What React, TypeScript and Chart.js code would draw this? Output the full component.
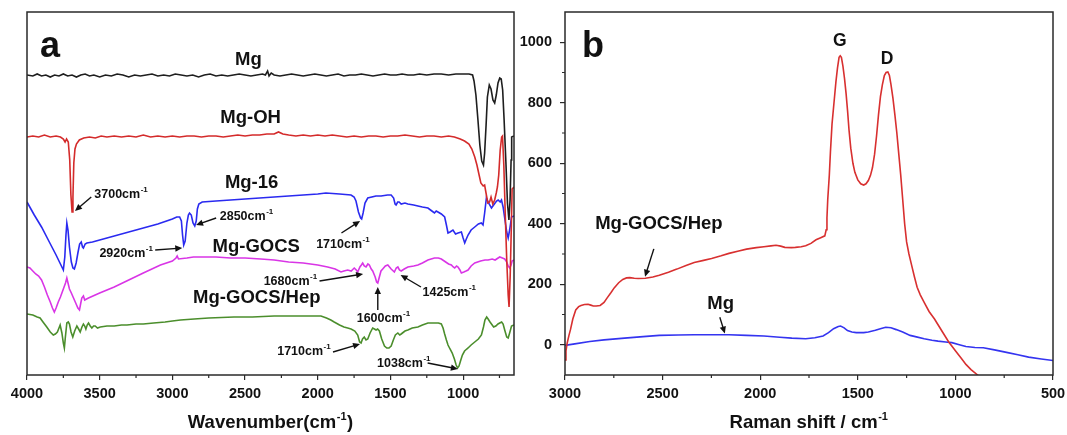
import React, { useEffect, useRef } from 'react';
import { Chart, registerables } from 'chart.js';

Chart.register(...registerables);

const FONT = '"Liberation Sans", Arial, Helvetica, sans-serif';
type Pt = [number, number];

// ---------------- Panel a : FTIR (wavenumber, transmittance a.u. with offsets) ----------------
const FTIR_X_TICKS = [4000, 3500, 3000, 2500, 2000, 1500, 1000];
const FTIR_X_MINOR = [3750, 3250, 2750, 2250, 1750, 1250, 750];

const FTIR_MG: Pt[] = [
  [4000, 300], [3960, 299], [3930, 301], [3900, 299], [3870, 300], [3840, 298], [3810, 300], [3780, 299], [3750, 301],
  [3720, 299], [3690, 300], [3660, 298], [3630, 300], [3600, 301], [3570, 299], [3540, 300], [3500, 298], [3460, 300],
  [3420, 299], [3380, 301], [3340, 300], [3300, 298], [3260, 300], [3220, 299], [3180, 300], [3140, 301], [3100, 299],
  [3060, 300], [3020, 299], [2980, 301], [2940, 300], [2900, 299], [2860, 300], [2820, 298], [2780, 300], [2740, 301],
  [2700, 299], [2660, 300], [2620, 299], [2580, 300], [2540, 301], [2500, 300], [2460, 299], [2420, 300], [2380, 301],
  [2360, 300], [2345, 304], [2335, 299], [2320, 302], [2300, 300], [2260, 299], [2220, 300], [2180, 301], [2140, 300],
  [2100, 299], [2060, 300], [2020, 301], [1980, 300], [1940, 299], [1900, 300], [1860, 301], [1820, 299], [1780, 300],
  [1740, 300], [1700, 301], [1660, 300], [1620, 299], [1580, 300], [1540, 301], [1500, 300], [1460, 300], [1420, 301],
  [1380, 300], [1340, 300], [1300, 301], [1250, 300], [1200, 301], [1150, 301], [1100, 300], [1050, 301], [1000, 301],
  [960, 301], [935, 300], [925, 294], [912, 280], [898, 255], [885, 230], [872, 214], [860, 210], [852, 222], [842, 250],
  [833, 278], [820, 290], [808, 286], [795, 275], [783, 272], [772, 280], [760, 292], [748, 297], [738, 296], [728, 285],
  [718, 255], [705, 210], [695, 172], [685, 155], [677, 175], [670, 215], [666, 238], [650, 239],
];

const FTIR_MG_OH: Pt[] = [
  [4000, 238], [3960, 239], [3920, 238], [3880, 240], [3840, 238], [3800, 239], [3770, 238], [3750, 236], [3738, 233],
  [3728, 236], [3716, 233], [3706, 215], [3698, 180], [3690, 163], [3684, 178], [3678, 212], [3670, 226], [3660, 231],
  [3640, 235], [3610, 237], [3570, 238], [3530, 237], [3490, 239], [3450, 238], [3400, 239], [3350, 238], [3300, 239],
  [3250, 238], [3200, 240], [3150, 238], [3100, 239], [3050, 238], [3000, 239], [2950, 238], [2900, 239], [2850, 239],
  [2800, 238], [2750, 239], [2700, 239], [2650, 238], [2600, 239], [2550, 240], [2500, 239], [2450, 240], [2400, 240],
  [2350, 241], [2300, 241], [2270, 243], [2240, 241], [2200, 240], [2150, 239], [2100, 240], [2050, 239], [2000, 240],
  [1950, 239], [1900, 240], [1850, 239], [1800, 238], [1750, 239], [1700, 238], [1650, 239], [1600, 239], [1550, 238],
  [1500, 239], [1450, 239], [1400, 240], [1350, 239], [1300, 238], [1250, 239], [1200, 239], [1150, 238], [1100, 239],
  [1060, 238], [1020, 236], [990, 234], [960, 231], [940, 226], [920, 218], [905, 210], [890, 200], [878, 192],
  [862, 189], [852, 190], [840, 180], [830, 172], [818, 173], [808, 178], [796, 171], [783, 175], [772, 182], [764, 188],
  [755, 200], [745, 225], [735, 238], [729, 239], [720, 210], [710, 160], [700, 115], [690, 80], [684, 68], [676, 100],
  [668, 150], [663, 186], [650, 188],
];

const FTIR_MG_16: Pt[] = [
  [4000, 173], [3950, 160], [3900, 148], [3850, 134], [3800, 120], [3770, 111], [3750, 105], [3740, 118], [3732, 140],
  [3726, 152], [3718, 145], [3708, 128], [3695, 113], [3684, 107], [3674, 106], [3662, 112], [3650, 122], [3638, 131],
  [3627, 133], [3618, 128], [3612, 127], [3600, 131], [3588, 132], [3550, 133], [3500, 135], [3400, 139], [3300, 143],
  [3200, 147], [3100, 151], [3000, 156], [2970, 158], [2950, 158], [2938, 154], [2930, 140], [2922, 130], [2912, 134],
  [2900, 152], [2890, 160], [2882, 162], [2870, 160], [2858, 152], [2846, 149], [2836, 154], [2828, 166], [2818, 171],
  [2795, 173], [2700, 174], [2600, 175], [2500, 176], [2400, 177], [2300, 178], [2200, 179], [2100, 180], [2000, 181],
  [1944, 182], [1850, 181], [1771, 180], [1750, 178], [1737, 174], [1720, 163], [1705, 157], [1698, 156], [1688, 162],
  [1675, 172], [1656, 177], [1600, 179], [1564, 179], [1520, 180], [1495, 180], [1478, 177], [1468, 171], [1461, 170],
  [1450, 173], [1440, 173], [1426, 171], [1400, 172], [1380, 171], [1340, 170], [1311, 169], [1280, 168], [1242, 167],
  [1215, 164], [1197, 162], [1185, 164], [1173, 163], [1150, 161], [1127, 158], [1115, 150], [1104, 142], [1090, 143],
  [1070, 145], [1052, 141], [1035, 142], [1012, 143], [1000, 137], [989, 132], [978, 136], [966, 140], [945, 145],
  [920, 148], [895, 151], [875, 152], [863, 150], [852, 162], [840, 177], [825, 172], [805, 167], [790, 170], [770, 174],
  [759, 175], [745, 173], [736, 175], [725, 168], [712, 155], [700, 143], [690, 137], [680, 145], [667, 158], [650, 159],
];

const FTIR_MG_GOCS: Pt[] = [
  [4000, 108], [3980, 107], [3960, 104], [3940, 101], [3920, 99], [3900, 95], [3880, 88], [3860, 80], [3840, 73],
  [3825, 67], [3812, 63], [3800, 67], [3785, 73], [3770, 78], [3755, 84], [3745, 88], [3735, 92], [3726, 97], [3718, 92],
  [3708, 86], [3695, 82], [3680, 77], [3665, 72], [3650, 67], [3639, 65], [3630, 72], [3623, 77], [3612, 79], [3603, 75],
  [3590, 76], [3577, 77], [3500, 82], [3400, 88], [3300, 95], [3200, 102], [3082, 110], [3000, 114], [2975, 117],
  [2967, 119], [2958, 116], [2900, 117], [2855, 118], [2700, 118], [2600, 117], [2500, 117], [2392, 116], [2300, 115],
  [2200, 113], [2100, 112], [2000, 110], [1932, 108], [1880, 106], [1840, 103], [1820, 104], [1794, 105], [1770, 104],
  [1749, 107], [1735, 105], [1725, 103], [1710, 108], [1700, 110], [1691, 112], [1680, 109], [1668, 108], [1655, 111],
  [1645, 110], [1632, 106], [1622, 104], [1605, 98], [1595, 93], [1587, 92], [1578, 97], [1565, 104], [1553, 106],
  [1535, 109], [1518, 110], [1495, 106], [1473, 103], [1460, 107], [1449, 108], [1438, 105], [1426, 104], [1405, 106],
  [1380, 108], [1340, 109], [1311, 110], [1280, 112], [1242, 115], [1220, 116], [1197, 117], [1170, 117], [1150, 116],
  [1120, 113], [1100, 111], [1081, 110], [1068, 108], [1058, 107], [1045, 109], [1035, 108], [1022, 105], [1012, 102],
  [995, 103], [980, 104], [966, 105], [945, 109], [920, 112], [880, 114], [850, 115], [828, 115], [800, 116], [780, 115],
  [759, 117], [748, 118], [730, 117], [714, 116], [700, 113], [690, 109], [679, 107], [670, 110], [663, 114], [650, 115],
];

const FTIR_MG_GOCS_HEP: Pt[] = [
  [4000, 61], [3960, 60], [3930, 58], [3910, 57], [3890, 53], [3864, 48], [3840, 43], [3819, 40], [3805, 41], [3791, 43],
  [3780, 47], [3772, 50], [3760, 42], [3750, 32], [3743, 27], [3736, 38], [3726, 52], [3716, 53], [3708, 51], [3697, 43],
  [3685, 38], [3672, 44], [3657, 49], [3645, 46], [3634, 43], [3622, 48], [3612, 51], [3603, 49], [3595, 46], [3586, 50],
  [3577, 52], [3565, 49], [3554, 47], [3542, 49], [3531, 49], [3515, 47], [3496, 48], [3450, 49], [3400, 49], [3350, 50],
  [3312, 50], [3250, 51], [3200, 51], [3129, 52], [3050, 53], [3000, 54], [2944, 55], [2850, 56], [2750, 57], [2576, 58],
  [2450, 58], [2300, 59], [2150, 59], [2050, 59], [1978, 59], [1940, 57], [1910, 55], [1887, 53], [1850, 50], [1820, 48],
  [1794, 47], [1771, 46], [1745, 44], [1725, 40], [1712, 33], [1702, 32], [1692, 36], [1680, 38], [1668, 35], [1656, 36],
  [1640, 42], [1622, 47], [1610, 46], [1599, 45], [1588, 46], [1576, 44], [1560, 36], [1541, 29], [1525, 27], [1510, 27],
  [1495, 29], [1480, 35], [1466, 40], [1449, 42], [1436, 40], [1426, 41], [1400, 44], [1380, 45], [1350, 47], [1311, 48],
  [1280, 50], [1242, 52], [1200, 52], [1170, 52], [1150, 51], [1138, 47], [1127, 41], [1115, 35], [1104, 30], [1090, 26],
  [1075, 22], [1060, 16], [1048, 10], [1038, 7], [1028, 9], [1018, 14], [1005, 20], [990, 24], [975, 26], [966, 27],
  [945, 30], [920, 33], [895, 36], [874, 40], [860, 48], [850, 55], [838, 58], [828, 56], [815, 53], [805, 51], [790, 48],
  [775, 49], [760, 51], [748, 52], [735, 53], [725, 51], [712, 44], [700, 38], [690, 37], [680, 42], [667, 49], [650, 50],
];

const FTIR_SERIES = [
  { name: 'Mg', data: FTIR_MG, color: '#1e1e1e' },
  { name: 'Mg-OH', data: FTIR_MG_OH, color: '#d42b2b' },
  { name: 'Mg-16', data: FTIR_MG_16, color: '#2a2af0' },
  { name: 'Mg-GOCS', data: FTIR_MG_GOCS, color: '#d935e6' },
  { name: 'Mg-GOCS/Hep', data: FTIR_MG_GOCS_HEP, color: '#4b8e2c' },
];

// curve names: [text, wavenumber, value]
const FTIR_NAMES: [string, number, number][] = [
  ['Mg', 2477, 315], ['Mg-OH', 2462, 257], ['Mg-16', 2455, 192], ['Mg-GOCS', 2423, 128], ['Mg-GOCS/Hep', 2419, 77],
];

// band notes: [band, text wn, text value, arrow-from wn, value, arrow-to wn, value]
const FTIR_NOTES: [string, number, number, number, number, number, number][] = [
  ['3700', 3537, 182, 3558, 178, 3670, 164],
  ['2850', 2674, 160, 2699, 157, 2837, 150],
  ['2920', 3502, 123, 3118, 125, 2932, 127],
  ['1710', 2011, 132, 1837, 142, 1709, 154],
  ['1680', 2372, 95, 1988, 94, 1688, 101],
  ['1425', 1279, 84, 1290, 88, 1430, 100],
  ['1600', 1732, 58, 1587, 65, 1587, 88],
  ['1710', 2279, 25, 1895, 23, 1709, 31],
  ['1038', 1592, 13, 1244, 12, 1036, 6],
];

// ---------------- Panel b : Raman ----------------
const RAMAN_X_TICKS = [3000, 2500, 2000, 1500, 1000, 500];
const RAMAN_X_MINOR = [2750, 2250, 1750, 1250, 750];
const RAMAN_Y_TICKS = [0, 200, 400, 600, 800, 1000];
const RAMAN_Y_MINOR = [100, 300, 500, 700, 900];

const RAMAN_HEP: Pt[] = [
  [3000, -50], [2995, -20], [2989, 5], [2980, 30], [2972, 50], [2960, 85], [2945, 115], [2930, 126], [2918, 130],
  [2900, 133], [2882, 134], [2868, 131], [2855, 128], [2840, 128], [2820, 130], [2800, 140], [2784, 155], [2765, 172],
  [2748, 188], [2725, 205], [2704, 216], [2685, 221], [2668, 222], [2645, 220], [2625, 219], [2588, 220], [2550, 224],
  [2517, 230], [2470, 240], [2427, 250], [2380, 262], [2338, 272], [2290, 279], [2249, 285], [2200, 294], [2160, 302],
  [2110, 310], [2070, 316], [2020, 321], [1981, 324], [1945, 327], [1919, 329], [1895, 326], [1874, 322], [1840, 321],
  [1820, 322], [1790, 324], [1767, 327], [1740, 335], [1714, 347], [1690, 354], [1669, 360], [1662, 380], [1658, 420],
  [1654, 480], [1646, 560], [1640, 640], [1632, 730], [1622, 800], [1612, 870], [1604, 915], [1596, 950], [1590, 955],
  [1584, 950], [1576, 920], [1568, 880], [1560, 830], [1552, 770], [1545, 710], [1536, 650], [1525, 600], [1515, 570],
  [1500, 545], [1485, 532], [1470, 528], [1458, 532], [1446, 543], [1435, 560], [1425, 585], [1414, 630], [1404, 690],
  [1394, 760], [1384, 820], [1374, 860], [1364, 890], [1355, 900], [1346, 902], [1338, 890], [1330, 860], [1320, 815],
  [1310, 760], [1300, 700], [1290, 630], [1280, 560], [1270, 480], [1260, 400], [1250, 340], [1238, 300], [1225, 265],
  [1210, 225], [1196, 190], [1180, 165], [1160, 140], [1135, 110], [1107, 85], [1085, 62], [1062, 38], [1035, 10],
  [1000, -20], [970, -45], [946, -65], [920, -82], [886, -100], [860, -118],
];

const RAMAN_MG: Pt[] = [
  [3000, -2], [2950, 3], [2873, 11], [2800, 16], [2695, 22], [2600, 27], [2517, 31], [2420, 32], [2338, 33], [2250, 33],
  [2160, 33], [2070, 31], [1981, 29], [1900, 25], [1838, 22], [1767, 20], [1720, 23], [1678, 29], [1650, 40], [1624, 53],
  [1600, 60], [1588, 62], [1570, 56], [1553, 47], [1530, 42], [1508, 40], [1470, 40], [1446, 42], [1410, 48], [1380, 54],
  [1357, 58], [1330, 56], [1303, 50], [1270, 42], [1232, 31], [1200, 26], [1160, 20], [1120, 15], [1089, 12], [1050, 9],
  [1018, 7], [980, 0], [946, -6], [900, -9], [857, -10], [800, -17], [732, -26], [680, -33], [625, -41], [560, -47],
  [500, -52],
];

const RAMAN_SERIES = [
  { name: 'Mg-GOCS/Hep', data: RAMAN_HEP, color: '#d83030' },
  { name: 'Mg', data: RAMAN_MG, color: '#3434f0' },
];

const RAMAN_PEAKS: [string, number, number][] = [['G', 1592, 1004], ['D', 1350, 944]];
// [text, text wn, text value, arrow-from wn, value, arrow-to wn, value]
const RAMAN_NOTES: [string, number, number, number, number, number, number][] = [
  ['Mg-GOCS/Hep', 2519, 399, 2545, 317, 2590, 225],
  ['Mg', 2203, 135, 2207, 91, 2181, 37],
];

// ---------------- helpers ----------------
const toXY = (arr: Pt[]) => arr.map(([x, y]) => ({ x, y }));

function supText(ctx: CanvasRenderingContext2D, x: number, y: number, main: string, sup: string, tail: string,
  size: number, align: 'left' | 'center') {
  const supSize = Math.round(size * 0.62);
  ctx.font = `bold ${size}px ${FONT}`;
  const w1 = ctx.measureText(main).width;
  const w3 = ctx.measureText(tail).width;
  ctx.font = `bold ${supSize}px ${FONT}`;
  const w2 = ctx.measureText(sup).width;
  const x0 = align === 'center' ? x - (w1 + w2 + w3 + 1) / 2 : x;
  ctx.textAlign = 'left';
  ctx.textBaseline = 'alphabetic';
  ctx.font = `bold ${size}px ${FONT}`;
  ctx.fillText(main, x0, y);
  if (tail) ctx.fillText(tail, x0 + w1 + w2 + 1, y);
  ctx.font = `bold ${supSize}px ${FONT}`;
  ctx.fillText(sup, x0 + w1 + 0.5, y - size * 0.42);
}

function arrow(ctx: CanvasRenderingContext2D, x1: number, y1: number, x2: number, y2: number) {
  const a = Math.atan2(y2 - y1, x2 - x1);
  const L = 7, W = 3.2;
  ctx.beginPath();
  ctx.moveTo(x1, y1);
  ctx.lineTo(x2 - L * 0.7 * Math.cos(a), y2 - L * 0.7 * Math.sin(a));
  ctx.stroke();
  ctx.beginPath();
  ctx.moveTo(x2, y2);
  ctx.lineTo(x2 - L * Math.cos(a) + W * Math.sin(a), y2 - L * Math.sin(a) - W * Math.cos(a));
  ctx.lineTo(x2 - L * Math.cos(a) - W * Math.sin(a), y2 - L * Math.sin(a) + W * Math.cos(a));
  ctx.closePath();
  ctx.fill();
}

const tickFont = { family: FONT, size: 14.5, weight: 'bold' as const };
const gridOpts = { display: true, drawOnChartArea: false, drawTicks: true, tickLength: 5, color: '#2a2a2a', lineWidth: 1.2 };

// keep Chart.js from reserving extra room for edge labels: the plot frame is fixed by layout padding
const noEdgePadding = (s: any) => { s.paddingLeft = 0; s.paddingRight = 0; s.paddingTop = 0; s.paddingBottom = 0; };

function xAxis(min: number, max: number, ticks: number[]) {
  return {
    type: 'linear' as const,
    reverse: true,
    min,
    max,
    afterBuildTicks: (s: any) => { s.ticks = ticks.map((v) => ({ value: v })); },
    afterFit: (s: any) => { s.height = 60; noEdgePadding(s); },
    grid: gridOpts,
    border: { display: false },
    ticks: { color: '#111', font: tickFont, padding: 5, maxRotation: 0, autoSkip: false, callback: (v: any) => String(v) },
  };
}

function overlay(draw: (chart: any, ctx: CanvasRenderingContext2D) => void, minorX: number[], minorY: number[],
  title: [string, string, string], letter: string, letterDx: number) {
  return {
    id: 'overlay',
    afterDraw(chart: any) {
      const ctx: CanvasRenderingContext2D = chart.ctx;
      const { left, right, top, bottom } = chart.chartArea;
      const xs = chart.scales.x, ys = chart.scales.y;
      ctx.save();
      ctx.strokeStyle = '#2a2a2a';
      ctx.lineWidth = 1.5;
      ctx.strokeRect(left, top, right - left, bottom - top);
      ctx.lineWidth = 1.2;
      ctx.beginPath();
      minorX.forEach((v) => { const p = xs.getPixelForValue(v); ctx.moveTo(p, bottom); ctx.lineTo(p, bottom + 3); });
      minorY.forEach((v) => { const p = ys.getPixelForValue(v); ctx.moveTo(left, p); ctx.lineTo(left - 3, p); });
      ctx.stroke();
      ctx.fillStyle = '#111';
      supText(ctx, (left + right) / 2, 428, title[0], title[1], title[2], 18.5, 'center');
      ctx.font = `bold 36px ${FONT}`;
      ctx.textAlign = 'left';
      ctx.textBaseline = 'alphabetic';
      ctx.fillText(letter, left + letterDx, 57);
      ctx.strokeStyle = '#111';
      ctx.lineWidth = 1.4;
      draw(chart, ctx);
      ctx.restore();
    },
  };
}

function drawFtir(chart: any, ctx: CanvasRenderingContext2D) {
  const xs = chart.scales.x, ys = chart.scales.y;
  ctx.font = `bold 18.5px ${FONT}`;
  ctx.textAlign = 'center';
  ctx.textBaseline = 'middle';
  FTIR_NAMES.forEach(([t, wn, v]) => ctx.fillText(t, xs.getPixelForValue(wn), ys.getPixelForValue(v)));
  FTIR_NOTES.forEach(([band, tw, tv, fw, fv, aw, av]) => {
    supText(ctx, xs.getPixelForValue(tw), ys.getPixelForValue(tv) + 4.5, band + 'cm', '-1', '', 12.5, 'left');
    arrow(ctx, xs.getPixelForValue(fw), ys.getPixelForValue(fv), xs.getPixelForValue(aw), ys.getPixelForValue(av));
  });
}

function drawRaman(chart: any, ctx: CanvasRenderingContext2D) {
  const xs = chart.scales.x, ys = chart.scales.y;
  ctx.textAlign = 'center';
  ctx.textBaseline = 'middle';
  ctx.font = `bold 17.5px ${FONT}`;
  RAMAN_PEAKS.forEach(([t, wn, v]) => ctx.fillText(t, xs.getPixelForValue(wn), ys.getPixelForValue(v)));
  RAMAN_NOTES.forEach(([t, tw, tv, fw, fv, aw, av]) => {
    ctx.textAlign = 'center';
    ctx.textBaseline = 'middle';
    ctx.font = `bold 18.5px ${FONT}`;
    ctx.fillText(t, xs.getPixelForValue(tw), ys.getPixelForValue(tv));
    arrow(ctx, xs.getPixelForValue(fw), ys.getPixelForValue(fv), xs.getPixelForValue(aw), ys.getPixelForValue(av));
  });
}

const lineDs = (s: { name: string; data: Pt[]; color: string }) => ({
  label: s.name,
  data: toXY(s.data),
  borderColor: s.color,
  borderWidth: 1.6,
  pointRadius: 0,
  tension: 0,
  fill: false,
});

export default function App() {
  const refA = useRef<HTMLCanvasElement>(null);
  const refB = useRef<HTMLCanvasElement>(null);

  useEffect(() => {
    const common = {
      responsive: false,
      animation: false as const,
      plugins: { legend: { display: false }, tooltip: { enabled: false } },
    };
    const chartA = new Chart(refA.current!, {
      type: 'line',
      data: { datasets: FTIR_SERIES.map(lineDs) },
      options: {
        ...common,
        layout: { padding: { left: 27, right: 6, top: 12, bottom: 0 } },
        scales: {
          x: xAxis(650, 4000, FTIR_X_TICKS),
          y: { type: 'linear', display: false, min: 0, max: 363 },
        },
      } as any,
      plugins: [overlay(drawFtir, FTIR_X_MINOR, [], ['Wavenumber(cm', '-1', ')'], 'a', 13)],
    });
    const chartB = new Chart(refB.current!, {
      type: 'line',
      data: { datasets: RAMAN_SERIES.map(lineDs) },
      options: {
        ...common,
        layout: { padding: { left: 0, right: 14, top: 12, bottom: 0 } },
        scales: {
          x: xAxis(500, 3000, RAMAN_X_TICKS),
          y: {
            type: 'linear',
            min: -100,
            max: 1100,
            afterBuildTicks: (s: any) => { s.ticks = RAMAN_Y_TICKS.map((v) => ({ value: v })); },
            afterFit: (s: any) => { s.width = 55; noEdgePadding(s); },
            grid: gridOpts,
            border: { display: false },
            ticks: { color: '#111', font: tickFont, padding: 8, callback: (v: any) => String(v) },
          },
        },
      } as any,
      plugins: [overlay(drawRaman, RAMAN_X_MINOR, RAMAN_Y_MINOR, ['Raman shift / cm', '-1', ''], 'b', 17)],
    });
    return () => { chartA.destroy(); chartB.destroy(); };
  }, []);

  return (
    <div style={{ position: 'absolute', left: 0, top: 0, width: 1067, height: 435, background: '#fff', overflow: 'hidden' }}>
      <canvas ref={refA} width={520} height={435} style={{ position: 'absolute', left: 0, top: 0 }} />
      <canvas ref={refB} width={557} height={435} style={{ position: 'absolute', left: 510, top: 0 }} />
    </div>
  );
}
